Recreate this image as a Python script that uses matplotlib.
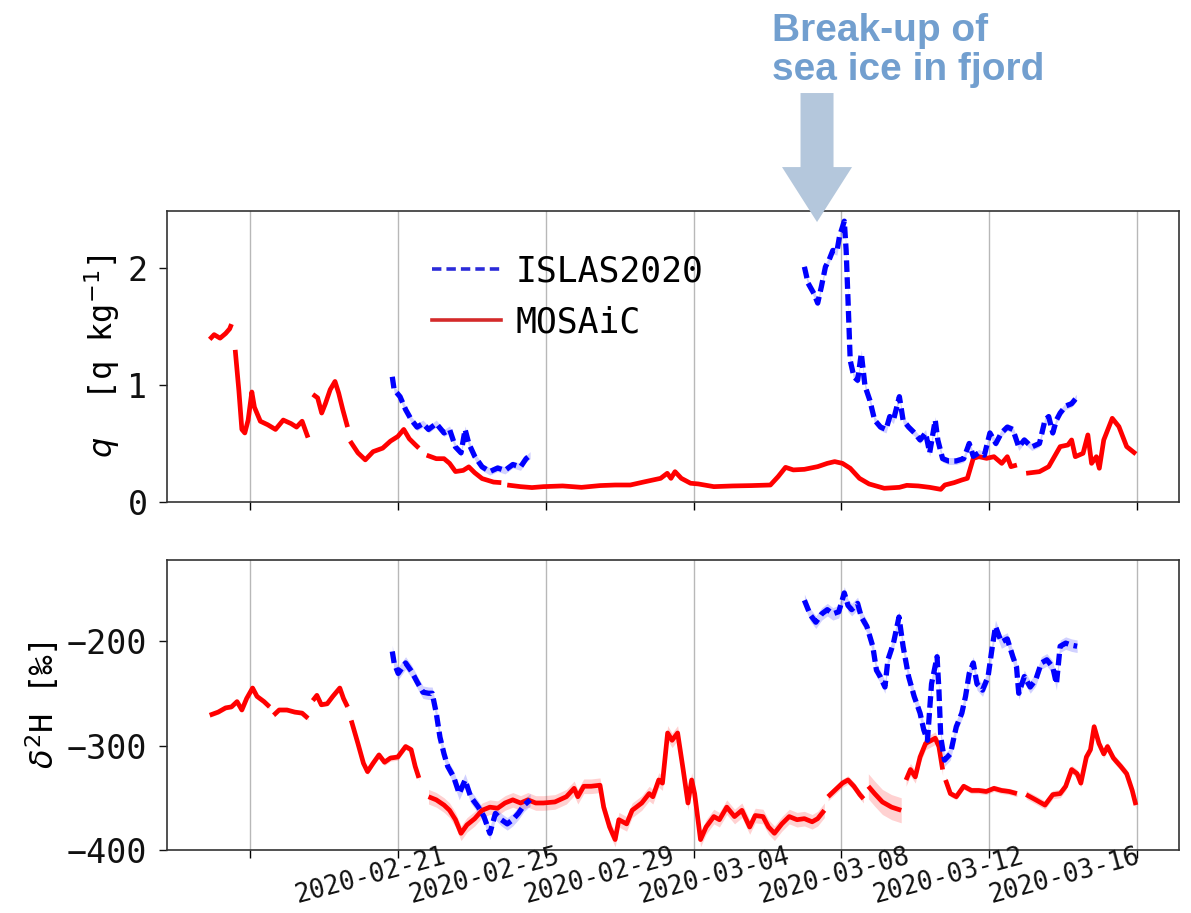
import numpy as np
import matplotlib
matplotlib.use('Agg')
import matplotlib.pyplot as plt
import matplotlib.dates as mdates
from matplotlib.lines import Line2D
from matplotlib.patches import FancyArrow
from matplotlib.transforms import ScaledTranslation, blended_transform_factory

plt.rcParams['font.family'] = ['DejaVu Sans Mono', 'DejaVu Sans']

# all times are days after this date; nan breaks a series into separate runs
T0 = np.datetime64('2020-02-21')
nan = np.nan

# ---- MOSAiC specific humidity (g/kg) ----
MOSAIC_Q_DAY = [-1.09, -0.97, -0.81, -0.66, -0.55, -0.50, nan,
                -0.40, -0.30, -0.22, -0.14, -0.05, 0.05, 0.12, 0.28, 0.48, 0.69, 0.90,
                1.11, 1.26, 1.41, 1.57, nan,
                1.70, 1.83, 1.94, 2.04, 2.17, 2.30, 2.40, 2.51, 2.64, nan,
                2.71, 2.92, 3.12, 3.33, 3.59, 3.80, 4.00, 4.16, 4.31, 4.47, 4.57, nan,
                4.78, 5.04, 5.25, 5.40, 5.56, 5.77, 5.92, 6.08, 6.28, 6.59, 6.80, nan,
                6.96, 7.32, 7.63, 7.94, 8.46, 8.97, 9.47, 9.88, 10.29, 10.70, 11.11,
                11.29, 11.39, 11.50, 11.67, 11.92, 12.13, 12.55, 13.06, 13.57, 14.08,
                14.29, 14.49, 14.70, 15.00, 15.36, 15.62, 15.82, 16.03, 16.24, 16.49,
                16.75, 17.16, 17.57, 17.77, 18.08, 18.39, 18.69, 18.80, 19.05, 19.26,
                19.41, 19.57, 19.72, 19.93, 20.13, 20.34, 20.49, 20.59, 20.75, nan,
                21.00, 21.36, 21.61, 21.92, 22.13, 22.23, 22.33, 22.54, 22.67, 22.77,
                22.90, 22.98, 23.10, 23.33, 23.51, 23.72, 23.97]
MOSAIC_Q = [1.39, 1.43, 1.40, 1.44, 1.48, 1.52, nan,
            1.30, 0.95, 0.62, 0.59, 0.70, 0.94, 0.81, 0.69, 0.66, 0.62, 0.70,
            0.67, 0.64, 0.69, 0.55, nan,
            0.92, 0.89, 0.76, 0.84, 0.96, 1.03, 0.93, 0.79, 0.64, nan,
            0.52, 0.42, 0.36, 0.43, 0.46, 0.52, 0.56, 0.62, 0.54, 0.49, 0.46, nan,
            0.40, 0.37, 0.37, 0.33, 0.26, 0.27, 0.30, 0.25, 0.20, 0.17, 0.165, nan,
            0.145, 0.131, 0.123, 0.131, 0.137, 0.125, 0.14, 0.145, 0.145, 0.174, 0.202,
            0.245, 0.202, 0.259, 0.202, 0.16, 0.154, 0.131, 0.137, 0.14, 0.145,
            0.217, 0.296, 0.274, 0.279, 0.302, 0.33, 0.345, 0.33, 0.288, 0.202,
            0.154, 0.117, 0.125, 0.142, 0.137, 0.125, 0.108, 0.145, 0.165, 0.188,
            0.202, 0.373, 0.387, 0.373, 0.387, 0.33, 0.387, 0.302, 0.316, nan,
            0.245, 0.259, 0.302, 0.473, 0.487, 0.53, 0.387, 0.416, 0.573, 0.33,
            0.387, 0.288, 0.53, 0.715, 0.644, 0.473, 0.41]

# ---- ISLAS2020 specific humidity (g/kg) ----
ISLAS_Q_DAY = [3.85, 3.90, 4.06, 4.21, 4.37, 4.52, 4.68, 4.83, 5.04, 5.25, 5.40, 5.56,
               5.71, 5.82, 5.92, 6.08, 6.28, 6.49, 6.70, 6.90, 7.11, 7.32, 7.47, 7.58, nan,
               15.00, 15.10, 15.26, 15.36, 15.46, 15.57, 15.67, 15.77, 15.88, 15.95,
               16.08, 16.13, 16.18, 16.24, 16.34, 16.44, 16.54, 16.64, 16.77, 16.90,
               17.06, 17.21, 17.31, 17.41, 17.57, 17.67, 17.82, 17.98, 18.13, 18.28,
               18.39, 18.54, 18.61, 18.74, 18.90, 19.10, 19.31, 19.46, 19.57, 19.72,
               19.87, 20.02, 20.18, 20.33, 20.49, 20.64, 20.80, 20.95, 21.15, 21.36,
               21.51, 21.61, 21.72, 21.82, 21.92, 22.07, 22.23, 22.36]
ISLAS_Q = [1.07, 0.96, 0.90, 0.79, 0.70, 0.64, 0.67, 0.62, 0.67, 0.59, 0.62, 0.47,
           0.42, 0.62, 0.50, 0.39, 0.30, 0.26, 0.29, 0.27, 0.32, 0.30, 0.37, 0.40, nan,
           2.01, 1.87, 1.78, 1.70, 1.84, 2.01, 2.07, 2.15, 2.14, 2.27,
           2.40, 2.15, 1.73, 1.21, 1.07, 1.04, 1.27, 0.99, 0.87, 0.70,
           0.64, 0.62, 0.73, 0.70, 0.90, 0.70, 0.64, 0.59, 0.53, 0.59,
           0.42, 0.70, 0.53, 0.37, 0.35, 0.35, 0.37, 0.50, 0.39, 0.42,
           0.40, 0.59, 0.50, 0.59, 0.64, 0.62, 0.47, 0.53, 0.47, 0.50,
           0.70, 0.73, 0.59, 0.70, 0.76, 0.82, 0.84, 0.89]

# ---- MOSAiC delta 2H (permil) ----
MOSAIC_D_DAY = [-1.09, -0.86, -0.66, -0.50, -0.35, -0.22, -0.09, 0.07, 0.19, 0.38, 0.53, nan,
                0.64, 0.79, 1.00, 1.21, 1.41, 1.57, nan,
                1.70, 1.81, 1.93, 2.09, 2.24, 2.43, 2.53, 2.64, nan,
                2.74, 2.92, 3.07, 3.18, 3.33, 3.49, 3.64, 3.80, 4.00, 4.21, 4.36, 4.47, 4.57, nan,
                4.83, 5.04, 5.25, 5.40, 5.56, 5.71, 5.87, 6.08, 6.28, 6.49, 6.70, 6.90,
                7.11, 7.32, 7.52, 7.73, 7.94, 8.25, 8.56, 8.77, 8.87, 9.03, 9.23, 9.47,
                9.57, 9.73, 9.88, 9.98, 10.19, 10.34, 10.60, 10.80, 10.90, 11.06, 11.16,
                11.30, 11.42, 11.57, 11.72, 11.85, 11.95, 12.03, 12.19, 12.34, 12.55,
                12.70, 12.90, 13.11, 13.31, 13.52, 13.67, 13.88, 14.03, 14.19, 14.39,
                14.59, 14.80, 15.00, 15.21, 15.36, 15.54, nan,
                15.64, 15.82, 16.03, 16.18, 16.34, 16.50, 16.60, nan,
                16.73, 16.90, 17.11, 17.36, 17.62, nan,
                17.75, 17.87, 18.00, 18.13, 18.28, 18.44, 18.54, 18.64, 18.74, nan,
                18.82, 18.95, 19.11, 19.31, 19.52, 19.72, 19.92, 20.13, 20.33, 20.54, 20.75, nan,
                21.00, 21.26, 21.51, 21.72, 21.92, 22.07, 22.23, 22.38, 22.48, 22.63,
                22.74, 22.84, 22.97, 23.10, 23.20, 23.36, 23.56, 23.72, 23.87, 23.97]
MOSAIC_D = [-271, -268, -264, -263, -258, -266, -255, -245, -253, -258, -263, nan,
            -271, -266, -266, -268, -269, -274, nan,
            -257, -252, -261, -260, -253, -245, -255, -263, nan,
            -276, -298, -317, -325, -317, -309, -316, -312, -311, -301, -304, -320, -331, nan,
            -349, -352, -357, -362, -371, -384, -376, -370, -362, -359, -360, -355,
            -352, -355, -352, -355, -355, -354, -349, -341, -349, -339, -339, -338,
            -359, -378, -390, -371, -375, -362, -355, -346, -349, -333, -336,
            -288, -295, -288, -323, -355, -333, -346, -390, -378, -368,
            -371, -359, -368, -362, -378, -367, -368, -378, -384, -375,
            -368, -371, -370, -373, -370, -362, nan,
            -349, -343, -336, -333, -339, -347, -351, nan,
            -339, -346, -354, -359, -362, nan,
            -333, -323, -330, -311, -298, -295, -293, -301, -323, nan,
            -333, -346, -349, -339, -343, -343, -344, -341, -343, -344, -346, nan,
            -347, -352, -357, -347, -346, -339, -323, -327, -336, -311,
            -304, -282, -298, -308, -301, -312, -320, -327, -343, -357]
# half-width of the shaded range, one value per run
MOSAIC_D_ERR = [2, 2, 2, 3, 7, 4, 12, 6, 3, 4]

# ---- ISLAS2020 delta 2H (permil) ----
ISLAS_D_DAY = [3.85, 3.90, 4.01, 4.11, 4.21, 4.37, 4.52, 4.68, 4.83, 4.93, 5.04, 5.14,
               5.25, 5.35, 5.51, 5.66, 5.82, 5.97, 6.18, 6.33, 6.49, 6.64, 6.80, 6.96,
               7.11, 7.26, 7.42, 7.58, nan,
               15.00, 15.16, 15.31, 15.47, 15.62, 15.77, 15.93, 16.08, 16.18, 16.28,
               16.44, 16.54, 16.69, 16.85, 16.95, 17.05, 17.18, 17.26, 17.41, 17.56,
               17.67, 17.82, 17.97, 18.13, 18.23, 18.33, 18.44, 18.59, 18.64, 18.69,
               18.79, 18.95, 19.11, 19.26, 19.36, 19.46, 19.57, 19.67, 19.82, 19.97,
               20.07, 20.17, 20.33, 20.49, 20.64, 20.74, 20.80, 20.95, 21.11, 21.26,
               21.41, 21.56, 21.72, 21.82, 21.92, 22.07, 22.23, 22.38]
ISLAS_D = [-210, -221, -231, -226, -221, -229, -239, -249, -250, -250, -269, -292,
           -308, -320, -330, -346, -333, -349, -359, -368, -384, -365, -371, -375,
           -371, -365, -357, -352, nan,
           -161, -175, -182, -174, -170, -174, -172, -154, -166, -170,
           -164, -177, -186, -205, -228, -234, -244, -218, -202, -177,
           -205, -234, -253, -269, -285, -295, -241, -215, -247, -292,
           -314, -308, -282, -269, -253, -231, -221, -241, -247, -234,
           -209, -186, -201, -198, -215, -225, -250, -234, -244, -237,
           -221, -218, -225, -241, -205, -202, -204, -205]
ISLAS_D_ERR = [6, 6]
ISLAS_Q_ERR = [0.03, 0.03]

TICK_DATES = ['2020-02-21', '2020-02-25', '2020-02-29', '2020-03-04',
              '2020-03-08', '2020-03-12', '2020-03-16']

RED = '#ff0000'
BLUE = '#0000ff'


def to_num(days):
    return mdates.date2num(T0) + np.asarray(days, dtype=float)


def runs(days, vals):
    """Split nan-separated series into contiguous runs."""
    d = np.asarray(days, dtype=float)
    v = np.asarray(vals, dtype=float)
    for idx in np.split(np.arange(len(d)), np.flatnonzero(np.isnan(d))):
        idx = idx[~np.isnan(d[idx])]
        if len(idx):
            yield to_num(d[idx]), v[idx]


def draw(ax, days, vals, err, color, **kw):
    for i, (x, y) in enumerate(runs(days, vals)):
        if err is not None:
            ax.fill_between(x, y - err[i], y + err[i], color=color, alpha=0.18, lw=0)
        ax.plot(x, y, color=color, **kw)


fig = plt.figure(figsize=(11.91, 9.13), dpi=100)
ax_q = fig.add_axes([0.1402, 0.4502, 0.8497, 0.3187])
ax_d = fig.add_axes([0.1402, 0.0690, 0.8497, 0.3176], sharex=ax_q)

red_kw = dict(lw=3.4, solid_capstyle='butt')
blue_kw = dict(lw=3.8, linestyle=(0, (2.2, 1.0)))

draw(ax_q, MOSAIC_Q_DAY, MOSAIC_Q, None, RED, **red_kw)
draw(ax_q, ISLAS_Q_DAY, ISLAS_Q, ISLAS_Q_ERR, BLUE, **blue_kw)
draw(ax_d, MOSAIC_D_DAY, MOSAIC_D, MOSAIC_D_ERR, RED, **red_kw)
draw(ax_d, ISLAS_D_DAY, ISLAS_D, ISLAS_D_ERR, BLUE, **blue_kw)

ticks = to_num([(np.datetime64(t) - T0).astype(int) for t in TICK_DATES])
ax_d.set_xlim(to_num(-2.246)[()], to_num(25.135)[()])
ax_d.set_xticks(ticks)
ax_d.set_xticklabels([])
ax_q.tick_params(labelbottom=False)

# date labels: written beside their ticks, packed towards the right end
LABEL_SHIFT_PX = [198, 165, 132, 99, 71, 37, 5]
base = blended_transform_factory(ax_d.transData, ax_d.transAxes)
for t, lab, dx in zip(ticks, TICK_DATES, LABEL_SHIFT_PX):
    ax_d.text(t, 0, lab, rotation=15, ha='right', va='top', fontsize=18.5,
              color='#111111', clip_on=False,
              transform=base + ScaledTranslation(dx / 100, 6 / 100, fig.dpi_scale_trans))

ax_q.set_ylim(0, 2.487)
ax_q.set_yticks([0, 1, 2])
ax_d.set_ylim(-400, -122.5)
ax_d.set_yticks([-400, -300, -200])

for ax in (ax_q, ax_d):
    ax.grid(axis='x', color='#b8b8b8', lw=1.0)
    ax.set_axisbelow(True)
    ax.tick_params(axis='y', labelsize=24, length=6, width=1, pad=8, colors='#111111')
    ax.tick_params(axis='x', length=6, width=1)
    for sp in ax.spines.values():
        sp.set_linewidth(1.2)
        sp.set_color('#333333')

ax_q.set_ylabel(r'$q$  [q kg$^{-1}$]', fontsize=23)
ax_d.set_ylabel(r'$\delta^2$H [‰]', fontsize=23)

legend_handles = [Line2D([], [], color='#2b2bd9', lw=2.6, linestyle=(0, (2.6, 1.4))),
                  Line2D([], [], color='#d42a2a', lw=2.6)]
ax_q.legend(legend_handles, ['ISLAS2020', 'MOSAiC'], loc='upper left',
            bbox_to_anchor=(0.248, 0.899), frameon=False, fontsize=25,
            handlelength=2.0, handletextpad=0.4, borderaxespad=0)

# event marker above the humidity panel
fig.add_artist(FancyArrow(0.6860, 0.8981, 0, -0.1413, width=0.0277,
                          head_width=0.0588, head_length=0.0602,
                          length_includes_head=True, color='#b4c7dc', lw=0,
                          transform=fig.transFigure))
fig.text(772 / 1191, 1 - 80 / 913, 'Break-up of\nsea ice in fjord', ha='left',
         va='baseline', fontsize=28, fontweight='bold', family='Liberation Sans',
         color='#729fcf', linespacing=1.1)

fig.savefig('out.png', dpi=100)
